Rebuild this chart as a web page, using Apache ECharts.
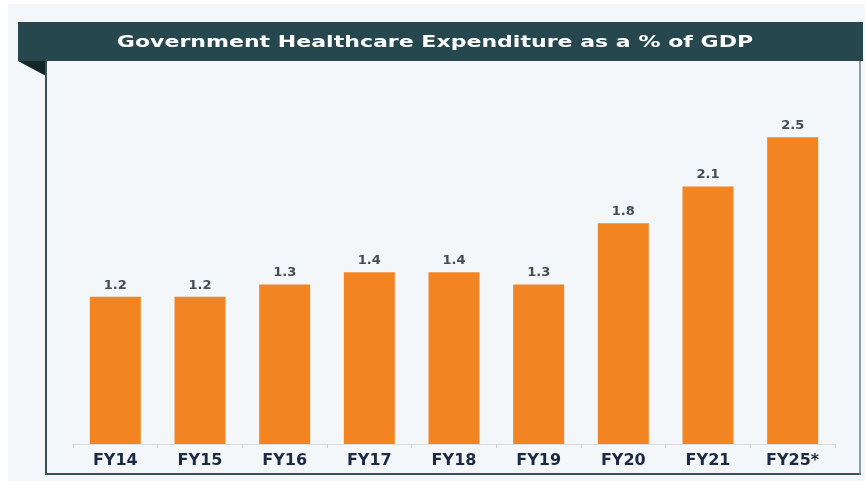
<!DOCTYPE html>
<html>
<head>
<meta charset="utf-8">
<script src="https://cdn.jsdelivr.net/npm/echarts@6/dist/echarts.min.js"></script>
<style>
  html, body { margin: 0; padding: 0; background: #ffffff; }
  #chart { width: 865px; height: 481px; }
</style>
</head>
<body>
<div id="chart"></div>
<script>
// data
var years = ["FY14", "FY15", "FY16", "FY17", "FY18", "FY19", "FY20", "FY21", "FY25*"];
var shareOfGdp = [1.2, 1.2, 1.3, 1.4, 1.4, 1.3, 1.8, 2.1, 2.5];
var chartTitle = "Government Healthcare Expenditure as a % of GDP";

var myChart = echarts.init(document.getElementById("chart"));

var option = {
  backgroundColor: "#ffffff",
  animation: false,
  graphic: [
    // page background
    { type: "rect", z: -10, shape: { x: 8, y: 4, width: 857, height: 477 }, style: { fill: "#f3f7f9" } },
    // header bar
    { type: "rect", shape: { x: 18, y: 22, width: 845, height: 39 }, style: { fill: "#27474f" } },
    // folded corner
    { type: "polygon", shape: { points: [[18, 61], [46, 61], [46, 76]] }, style: { fill: "#15262b" } },
    // panel borders
    { type: "line", shape: { x1: 46, y1: 61, x2: 46, y2: 475 }, style: { stroke: "#3b4f57", lineWidth: 2 } },
    { type: "line", shape: { x1: 45, y1: 474, x2: 861, y2: 474 }, style: { stroke: "#3b4f57", lineWidth: 2 } },
    { type: "line", shape: { x1: 860, y1: 61, x2: 860, y2: 475 }, style: { stroke: "#6d8088", lineWidth: 1.5 } },
    // title
    {
      type: "text", x: 435, y: 43, scaleX: 1.47, originX: 0, originY: 0,
      style: {
        text: chartTitle, fill: "#ffffff", align: "center", verticalAlign: "middle",
        font: "bold 15px 'DejaVu Sans', sans-serif"
      }
    }
  ],
  grid: { left: 73, right: 30, top: 76, bottom: 37 },
  xAxis: {
    type: "category",
    data: years,
    axisLine: { show: true, lineStyle: { color: "#dcdcdc", width: 1 } },
    axisTick: { show: true, length: 4, lineStyle: { color: "#cfcfcf" } },
    axisLabel: {
      color: "#1c2944",
      fontFamily: "'DejaVu Sans', sans-serif",
      fontWeight: "bold",
      fontSize: 16,
      margin: 9
    }
  },
  yAxis: {
    type: "value",
    min: 0,
    max: 3,
    show: false,
    splitLine: { show: false }
  },
  series: [{
    type: "bar",
    data: shareOfGdp,
    barWidth: 51,
    itemStyle: { color: "#f28522" },
    label: {
      show: true,
      position: "top",
      distance: 5,
      color: "#454c55",
      fontFamily: "'DejaVu Sans', sans-serif",
      fontWeight: "bold",
      fontSize: 13,
      formatter: function (p) { return p.value.toFixed(1); }
    }
  }]
};

myChart.setOption(option);
window.addEventListener("resize", function () { myChart.resize(); });
</script>
</body>
</html>
